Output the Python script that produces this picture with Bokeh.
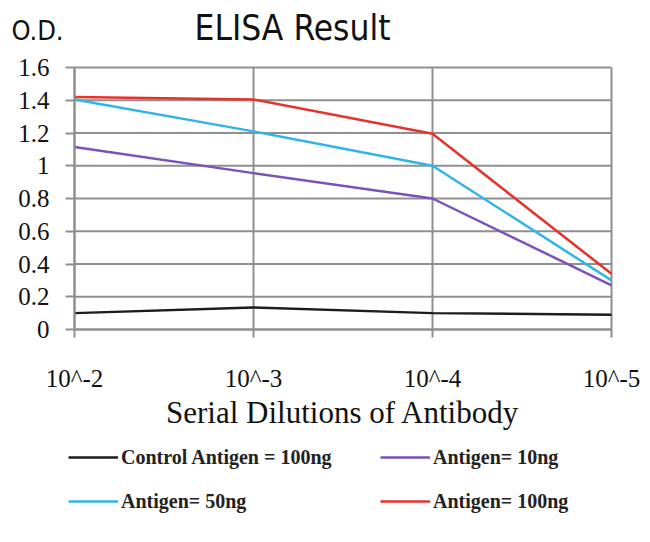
from bokeh.plotting import figure
from bokeh.models import Legend, LegendItem, FixedTicker, Range1d, Label
from bokeh.embed import file_html
from bokeh.resources import INLINE

# dilutions on the x axis, O.D. readings per antigen amount
dilutions = ["10^-2", "10^-3", "10^-4", "10^-5"]
control_100ng = [0.10, 0.135, 0.10, 0.09]
antigen_10ng = [1.115, 0.955, 0.80, 0.27]
antigen_50ng = [1.405, 1.21, 1.00, 0.30]
antigen_100ng = [1.42, 1.405, 1.195, 0.34]
y_ticks = [0, 0.2, 0.4, 0.6, 0.8, 1, 1.2, 1.4, 1.6]

xs = list(range(len(dilutions)))
x_max = xs[-1]
y_max = y_ticks[-1]
grid = "#8f8f8f"
serif = "Liberation Serif"
sans = "Liberation Sans Narrow, DejaVu Sans Condensed, sans-serif"

# canvas size and where the plotting box sits on it (pixels)
W, H = 640, 534
left, right, top, bottom = 74, 611, 67, 329
xu = (right - left) / x_max
yu = (bottom - top) / y_max

p = figure(width=W, height=H, output_backend="svg", toolbar_location=None,
           x_range=Range1d(-left / xu, x_max + (W - right) / xu),
           y_range=Range1d(-(H - bottom) / yu, y_max + top / yu),
           min_border=0)
p.outline_line_color = None
p.grid.visible = False

# grid lines, box edges included
p.segment(x0=0, y0=y_ticks, x1=x_max, y1=y_ticks, line_color=grid, line_width=2)
p.segment(x0=xs, y0=0, x1=xs, y1=y_max, line_color=grid, line_width=2)

p.xaxis.fixed_location = 0
p.yaxis.fixed_location = 0
p.xaxis.bounds = (0, x_max)
p.yaxis.bounds = (0, y_max)
p.xaxis.ticker = FixedTicker(ticks=xs)
p.xaxis.major_label_overrides = {i: d for i, d in enumerate(dilutions)}
p.yaxis.ticker = FixedTicker(ticks=y_ticks)
p.yaxis.major_label_overrides = {t: ("%g" % t) for t in y_ticks}

for ax in (p.xaxis, p.yaxis):
    ax.axis_line_color = grid
    ax.axis_line_width = 2
    ax.major_tick_line_color = grid
    ax.major_tick_line_width = 2
    ax.major_tick_in = 0
    ax.minor_tick_line_color = None
    ax.major_label_text_font = serif
    ax.major_label_text_font_size = "25px"
    ax.major_label_text_color = "#111111"

p.yaxis.major_tick_out = 9
p.yaxis.major_label_standoff = 16
p.xaxis.major_tick_out = 8
p.xaxis.major_label_standoff = 27
p.xaxis.axis_label = "Serial Dilutions of Antibody"
p.xaxis.axis_label_text_font = serif
p.xaxis.axis_label_text_font_size = "31px"
p.xaxis.axis_label_text_font_style = "normal"
p.xaxis.axis_label_text_color = "#111111"
p.xaxis.axis_label_standoff = 0

series = [
    ("Control Antigen = 100ng", control_100ng, "#1c1c1c"),
    ("Antigen= 10ng", antigen_10ng, "#7b52b8"),
    ("Antigen= 50ng", antigen_50ng, "#2fb6e6"),
    ("Antigen= 100ng", antigen_100ng, "#e8312b"),
]
items = {}
for name, vals, col in series:
    r = p.line(xs, vals, line_color=col, line_width=2.5)
    items[name] = LegendItem(label=name, renderers=[r])

# legend fills column by column: order so rows read as in the reference
legend_order = ["Control Antigen = 100ng", "Antigen= 50ng",
                "Antigen= 10ng", "Antigen= 100ng"]
legend = Legend(items=[items[n] for n in legend_order],
                location=(68, H - 523), ncols=2,
                glyph_width=50, glyph_height=44, label_width=259,
                label_height=44, label_standoff=3, spacing=0, padding=0,
                margin=0, border_line_color=None, background_fill_alpha=0,
                label_text_font=serif, label_text_font_size="20px",
                label_text_font_style="bold", label_text_color="#222222")
p.add_layout(legend, "center")

p.add_layout(Label(x=37, y=H - 30, x_units="screen", y_units="screen",
                   text="O.D.", text_font=sans, text_font_size="27px",
                   text_align="center", text_baseline="middle",
                   text_color="#111111"))
p.add_layout(Label(x=194, y=H - 27, x_units="screen", y_units="screen",
                   text="ELISA Result", text_font=sans, text_font_size="35px",
                   text_align="left", text_baseline="middle",
                   text_color="#111111"))

open("out.html", "w").write(file_html(p, INLINE))
